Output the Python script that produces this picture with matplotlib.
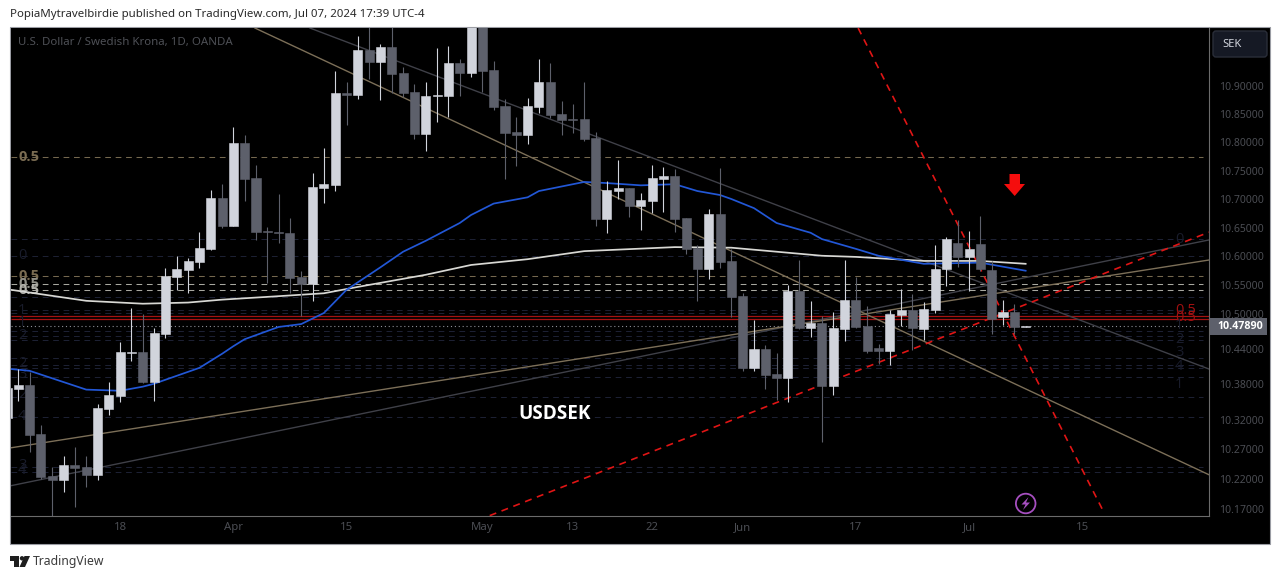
import numpy as np
import matplotlib
matplotlib.use('Agg')
import matplotlib.pyplot as plt
from matplotlib.patches import Polygon, Rectangle, Circle, FancyBboxPatch
from matplotlib.ticker import FixedLocator, NullLocator, FixedFormatter
from matplotlib.transforms import Affine2D

plt.rcParams['font.family'] = ['Noto Sans', 'DejaVu Sans']

# Velas diarias USDSEK (la primera y las dos ultimas incluidas)
opens = [10.323, 10.372, 10.379, 10.296, 10.226, 10.219, 10.243, 10.241, 10.227, 10.338,
         10.360, 10.434, 10.435, 10.384, 10.466, 10.564, 10.576, 10.590, 10.613, 10.702,
         10.653, 10.799, 10.737, 10.644, 10.642, 10.641, 10.564, 10.552, 10.719, 10.724,
         10.888, 10.884, 10.965, 10.943, 10.970, 10.923, 10.889, 10.815, 10.882, 10.882,
         10.941, 10.923, 11.050, 10.929, 10.864, 10.818, 10.813, 10.863, 10.907, 10.850,
         10.841, 10.841, 10.808, 10.665, 10.714, 10.719, 10.688, 10.697, 10.735, 10.740,
         10.667, 10.615, 10.578, 10.674, 10.592, 10.531, 10.408, 10.440, 10.398, 10.391,
         10.540, 10.476, 10.485, 10.377, 10.475, 10.525, 10.480, 10.442, 10.437, 10.499,
         10.507, 10.475, 10.507, 10.578, 10.623, 10.599, 10.621, 10.576, 10.495, 10.504,
         10.4785]
highs = [10.376, 10.406, 10.401, 10.311, 10.241, 10.259, 10.274, 10.259, 10.347, 10.384,
         10.452, 10.511, 10.500, 10.476, 10.580, 10.601, 10.597, 10.642, 10.716, 10.726,
         10.827, 10.813, 10.760, 10.651, 10.709, 10.667, 10.575, 10.746, 10.790, 10.927,
         10.907, 10.989, 11.030, 10.975, 11.030, 10.934, 10.904, 10.907, 10.968, 10.972,
         10.948, 11.080, 11.080, 10.945, 10.877, 10.845, 10.879, 10.948, 10.941, 10.873,
         10.868, 10.907, 10.818, 10.732, 10.769, 10.719, 10.711, 10.760, 10.756, 10.753,
         10.667, 10.620, 10.682, 10.755, 10.613, 10.536, 10.490, 10.447, 10.434, 10.550,
         10.594, 10.523, 10.497, 10.504, 10.594, 10.564, 10.514, 10.449, 10.507, 10.544,
         10.535, 10.521, 10.620, 10.634, 10.663, 10.644, 10.670, 10.592, 10.525, 10.518,
         10.4795]
lows = [10.321, 10.352, 10.266, 10.221, 10.159, 10.199, 10.174, 10.207, 10.219, 10.328,
        10.350, 10.420, 10.382, 10.352, 10.459, 10.542, 10.536, 10.580, 10.611, 10.649,
        10.653, 10.697, 10.629, 10.554, 10.623, 10.536, 10.497, 10.523, 10.693, 10.714,
        10.831, 10.877, 10.912, 10.875, 10.888, 10.880, 10.806, 10.785, 10.836, 10.845,
        10.882, 10.916, 10.889, 10.857, 10.735, 10.758, 10.797, 10.852, 10.843, 10.813,
        10.816, 10.802, 10.653, 10.641, 10.700, 10.669, 10.646, 10.676, 10.677, 10.642,
        10.604, 10.523, 10.561, 10.580, 10.495, 10.403, 10.403, 10.372, 10.354, 10.350,
        10.475, 10.461, 10.283, 10.362, 10.454, 10.476, 10.434, 10.415, 10.413, 10.480,
        10.439, 10.456, 10.502, 10.549, 10.581, 10.540, 10.575, 10.466, 10.482, 10.466,
        10.4780]
closes = [10.374, 10.379, 10.2945, 10.224, 10.219, 10.243, 10.239, 10.227, 10.340, 10.362,
          10.435, 10.435, 10.384, 10.468, 10.566, 10.578, 10.592, 10.615, 10.702, 10.653,
          10.799, 10.735, 10.642, 10.642, 10.641, 10.562, 10.552, 10.721, 10.726, 10.888,
          10.884, 10.965, 10.943, 10.970, 10.921, 10.888, 10.815, 10.882, 10.884, 10.941,
          10.923, 11.060, 10.927, 10.863, 10.816, 10.813, 10.864, 10.907, 10.848, 10.839,
          10.839, 10.806, 10.665, 10.716, 10.719, 10.688, 10.698, 10.737, 10.740, 10.665,
          10.613, 10.578, 10.674, 10.590, 10.530, 10.408, 10.440, 10.396, 10.391, 10.540,
          10.476, 10.485, 10.377, 10.476, 10.525, 10.478, 10.437, 10.437, 10.500, 10.507,
          10.476, 10.509, 10.578, 10.630, 10.599, 10.613, 10.578, 10.492, 10.504, 10.478,
          10.4789]

# Media azul
blue_bars = [0.36, 2, 7, 10, 12, 13, 17, 19, 20, 21, 24, 26, 28, 30, 33, 35, 37, 40, 41, 42,
             43, 46, 47, 51, 53, 56, 59, 61, 63, 64, 66, 68, 71, 72, 75, 77, 81, 86, 90]
blue_vals = [10.406, 10.403, 10.371, 10.369, 10.376, 10.381, 10.408, 10.432, 10.445, 10.457,
             10.478, 10.483, 10.502, 10.542, 10.581, 10.608, 10.627, 10.658, 10.672, 10.682,
             10.692, 10.703, 10.714, 10.730, 10.728, 10.724, 10.726, 10.714, 10.707, 10.700,
             10.684, 10.658, 10.641, 10.630, 10.613, 10.601, 10.587, 10.589, 10.575]

# Media blanca
white_bars = [0.36, 7, 12, 16, 19, 24, 28, 31, 33, 37, 41, 46, 51, 59, 64, 68, 72, 75, 81, 86, 90]
white_vals = [10.542, 10.523, 10.518, 10.520, 10.525, 10.531, 10.536, 10.547, 10.554, 10.568,
              10.585, 10.595, 10.609, 10.616, 10.615, 10.608, 10.601, 10.599, 10.592, 10.592, 10.587]

# Niveles horizontales
tan_levels = [10.774, 10.566]
light_levels = [10.552, 10.542]
dark_levels = [10.630, 10.601, 10.530, 10.507, 10.502, 10.471, 10.463, 10.456, 10.425,
               10.413, 10.408, 10.393, 10.359, 10.325, 10.241, 10.232]
red_levels = [10.497, 10.4918]
last_price = 10.4789

# Lineas de tendencia: (barra0, precio0, barra1, precio1)
tan_up = (0.36, 10.2726, 106.2, 10.5936)
grey_up = (0.36, 10.209, 106.2, 10.6285)
tan_down = (21.91, 11.004, 106.2, 10.2273)
grey_down = (26.77, 11.004, 106.2, 10.406)
red_up = (42.65, 10.159, 106.2, 10.642)
red_down = (75.2, 11.004, 96.9, 10.165)

# Etiquetas de ejes
price_ticks = [10.90, 10.85, 10.80, 10.75, 10.70, 10.65, 10.60, 10.55, 10.50, 10.44,
               10.38, 10.32, 10.27, 10.22, 10.17]
date_bars = [10, 20, 30, 42, 50, 57, 65, 75, 85, 95]
date_labels = ['18', 'Apr', '15', 'May', '13', '22', 'Jun', '17', 'Jul', '15']

# Etiquetas de los fibonacci: (precio, texto, color, peso)
left_fib = [(10.774, '0.5', '#7a6c52', 'bold'), (10.601, '0', '#191c2b', 'normal'),
            (10.566, '0.5', '#7a6c52', 'bold'), (10.552, '0.5', '#8f8f88', 'bold'),
            (10.542, '0.5', '#b0b0aa', 'bold'), (10.507, '1', '#191c2b', 'normal'),
            (10.485, '1', '#191c2b', 'normal'), (10.463, '2', '#191c2b', 'normal'),
            (10.415, '2', '#191c2b', 'normal'), (10.396, '3', '#191c2b', 'normal'),
            (10.362, '2', '#191c2b', 'normal'), (10.325, '4', '#191c2b', 'normal'),
            (10.243, '3', '#191c2b', 'normal'), (10.234, '4', '#191c2b', 'normal')]
right_fib = [(10.630, '0', '#191c2b', 'normal'), (10.5055, '0.5', '#a01010', 'normal'),
             (10.4935, '0.5', '#a01010', 'normal'), (10.480, '1', '#191c2b', 'normal'),
             (10.456, '2', '#191c2b', 'normal'), (10.434, '3', '#191c2b', 'normal'),
             (10.410, '4', '#191c2b', 'normal'), (10.379, '1', '#191c2b', 'normal')]

W, H = 1281, 579
fig = plt.figure(figsize=(W / 100, H / 100), dpi=100, facecolor='white')
# pixeles de la imagen, con y hacia abajo
px = Affine2D().scale(1, -1).translate(0, H)

fig.add_artist(Rectangle((10, 27), 1260, 517, transform=px, facecolor='black',
                         edgecolor='#9a9ca3', linewidth=0.8, zorder=-1))

ax = fig.add_axes([11 / W, 1 - 516 / H, (1209 - 11) / W, (516 - 28) / H], facecolor='black')
ax.set_yscale('log')
ax.set_xlim(0.355, 106.2)
ax.set_ylim(10.1584, 11.0041)

ax.yaxis.tick_right()
ax.yaxis.set_major_locator(FixedLocator(price_ticks))
ax.yaxis.set_major_formatter(FixedFormatter(['%.5f' % p for p in price_ticks]))
ax.yaxis.set_minor_locator(NullLocator())
ax.set_xticks(date_bars, date_labels)
ax.tick_params(axis='y', length=0, pad=7.2, labelsize=7.5, labelcolor='#4b4d53')
ax.tick_params(axis='x', length=0, pad=4.5, labelsize=8.2, labelcolor='#4b4d53')
for side in ['left', 'top']:
    ax.spines[side].set_visible(False)
for side in ['right', 'bottom']:
    ax.spines[side].set_color('#6b6b6b')
    ax.spines[side].set_linewidth(0.8)

# Niveles
dash = (0, (5.5, 4.5))
ax.hlines(tan_levels, 0.36, 105.7, color='#75684f', linewidth=0.75, linestyle=dash, zorder=1)
ax.hlines(light_levels, 0.36, 105.7, color='#a8a8a0', linewidth=0.75, linestyle=dash, zorder=1)
ax.hlines(dark_levels, 0.36, 105.7, color='#1c2033', linewidth=0.75, linestyle=dash, zorder=1)
ax.hlines(red_levels, 0.36, 106.2, color='#a51212', linewidth=0.9, zorder=1.5)
ax.axhline(last_price, color='#8d8f96', linewidth=0.8, linestyle=(0, (1, 2.5)), zorder=1.5)

# Tendencias
for line, col, lw in [(grey_up, '#3f4048', 1.0), (grey_down, '#3f4048', 1.0),
                      (tan_up, '#7c6f58', 1.0), (tan_down, '#7c6f58', 1.0)]:
    ax.plot([line[0], line[2]], [line[1], line[3]], color=col, linewidth=lw, zorder=2)
for line in [red_up, red_down]:
    ax.plot([line[0], line[2]], [line[1], line[3]], color='#e01515', linewidth=1.2,
            linestyle=(0, (4.2, 3.4)), zorder=2)

ax.plot(white_bars, white_vals, color='#d8d8d4', linewidth=1.25, zorder=2.5)
ax.plot(blue_bars, blue_vals, color='#2257d6', linewidth=1.25, zorder=2.5)

# Velas
opens = np.array(opens)
closes = np.array(closes)
bars = np.arange(len(opens))
colors = ['#d1d4dc' if c >= o else '#5d606b' for o, c in zip(opens, closes)]
ax.vlines(bars, lows, highs, color=colors, linewidth=0.8, zorder=3)
ax.bar(bars, np.abs(closes - opens), bottom=np.minimum(opens, closes), width=0.8, color=colors,
       edgecolor=colors, linewidth=0.4, zorder=4)

# Textos de fibonacci
for price, label, col, weight in left_fib:
    ax.text(0.98, price, label, color=col, fontsize=10.5, fontfamily='Open Sans', fontweight=weight,
            va='center', ha='left', zorder=1.8)
for price, label, col, weight in right_fib:
    ax.text(103.2, price, label, color=col, fontsize=10.5, fontfamily='Open Sans', fontweight=weight,
            va='center', ha='left', zorder=1.8)

ax.text(48.4, 10.330, 'USDSEK', color='white', fontsize=13.6, fontfamily='Open Sans',
        fontweight='bold', ha='center', va='center', zorder=5)

# Flecha roja
fig.add_artist(Polygon([(1009.5, 174), (1020, 174), (1020, 184), (1025, 184), (1014.7, 196),
                        (1004, 184), (1009.5, 184)], transform=px, facecolor='#f50d0d',
                       edgecolor='none'))

# Icono rayo
fig.add_artist(Circle((1025.7, 503.5), 9.8, transform=px, facecolor='black',
                      edgecolor='#a64fc0', linewidth=1.3))
fig.add_artist(Polygon([(1028.5, 497), (1021.5, 504.5), (1025.5, 504.5), (1023, 510),
                        (1030, 502.5), (1026, 502.5)], transform=px, facecolor='#a64fc0',
                       edgecolor='none'))

# Caja de ultimo precio
fig.add_artist(Rectangle((1209.5, 318), 57.5, 17, transform=px, facecolor='#5d606b',
                         edgecolor='none'))
fig.text(1240, 326.5, '10.47890', transform=px, color='white', fontsize=7.7, fontfamily='Open Sans',
         fontweight='bold', ha='center', va='center')

# Boton SEK
fig.add_artist(FancyBboxPatch((1213, 31), 54, 26, boxstyle='round,pad=0,rounding_size=3',
                              transform=px, facecolor='#151924', edgecolor='#2a2e39',
                              linewidth=1.0))
fig.text(1222, 44.5, 'SEK', transform=px, color='#d1d4dc', fontsize=8.0, ha='left', va='center')

# Cabecera y leyenda
fig.text(10, 14.5, 'PopiaMytravelbirdie published on TradingView.com, Jul 07, 2024 17:39 UTC-4',
         transform=px, color='#2a2a2a', fontsize=8.27, ha='left', va='center')
fig.text(18, 42, 'U.S. Dollar / Swedish Krona, 1D, OANDA', transform=px, color='#4e5056',
         fontsize=8.27, ha='left', va='center')

# Logo de TradingView
fig.add_artist(Polygon([(10, 556), (19, 556), (19, 567), (14, 567), (14, 560.5), (10, 560.5)],
                       transform=px, facecolor='#1e1e1e', edgecolor='none'))
fig.add_artist(Circle((22, 558.3), 2.2, transform=px, facecolor='#1e1e1e', edgecolor='none'))
fig.add_artist(Polygon([(24.5, 556), (30, 556), (25, 567), (19.5, 567)], transform=px,
                       facecolor='#1e1e1e', edgecolor='none'))
fig.text(33, 561.5, 'TradingView', transform=px, color='#3b3b3b', fontsize=8.8, ha='left',
         va='center')

fig.savefig('out.png', dpi=100, facecolor='white')
